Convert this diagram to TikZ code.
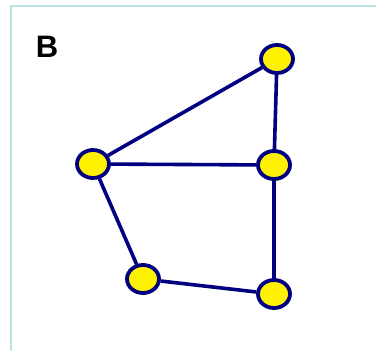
\documentclass[tikz,border=0pt]{standalone}
\usepackage{fontspec}
\setmainfont{Liberation Sans}
\definecolor{navy}{RGB}{0,0,128}
\definecolor{frameblue}{RGB}{184,226,230}
\tikzset{
    vertex/.style={ellipse, draw=navy, fill=yellow, line width=3.8pt,
        minimum width=32pt, minimum height=28pt, inner sep=0pt},
    edge/.style={draw=navy, line width=3.6pt}
}
\usetikzlibrary{shapes.geometric}
\begin{document}
\begin{tikzpicture}[x=1pt, y=-1pt]
    % Canvas and frame
    \useasboundingbox (0, 0) rectangle (376, 351);
    \draw[frameblue, line width=2pt] (11, 351) -- (11, 6) -- (376, 6);

    % Panel label
    \node[font=\fontsize{31}{31}\selectfont\bfseries] (label) at (47, 47) {B};

    % Vertices
    \node[vertex] (top) at (277, 59) {};
    \node[vertex] (left) at (93, 164) {};
    \node[vertex] (mid) at (274, 165) {};
    \node[vertex] (low) at (143, 279) {};
    \node[vertex] (right) at (274, 294) {};

    % Edges
    \draw[edge] (top) -- (left);
    \draw[edge] (top) -- (mid);
    \draw[edge] (left) -- (mid);
    \draw[edge] (left) -- (low);
    \draw[edge] (low) -- (right);
    \draw[edge] (mid) -- (right);
\end{tikzpicture}
\end{document}
